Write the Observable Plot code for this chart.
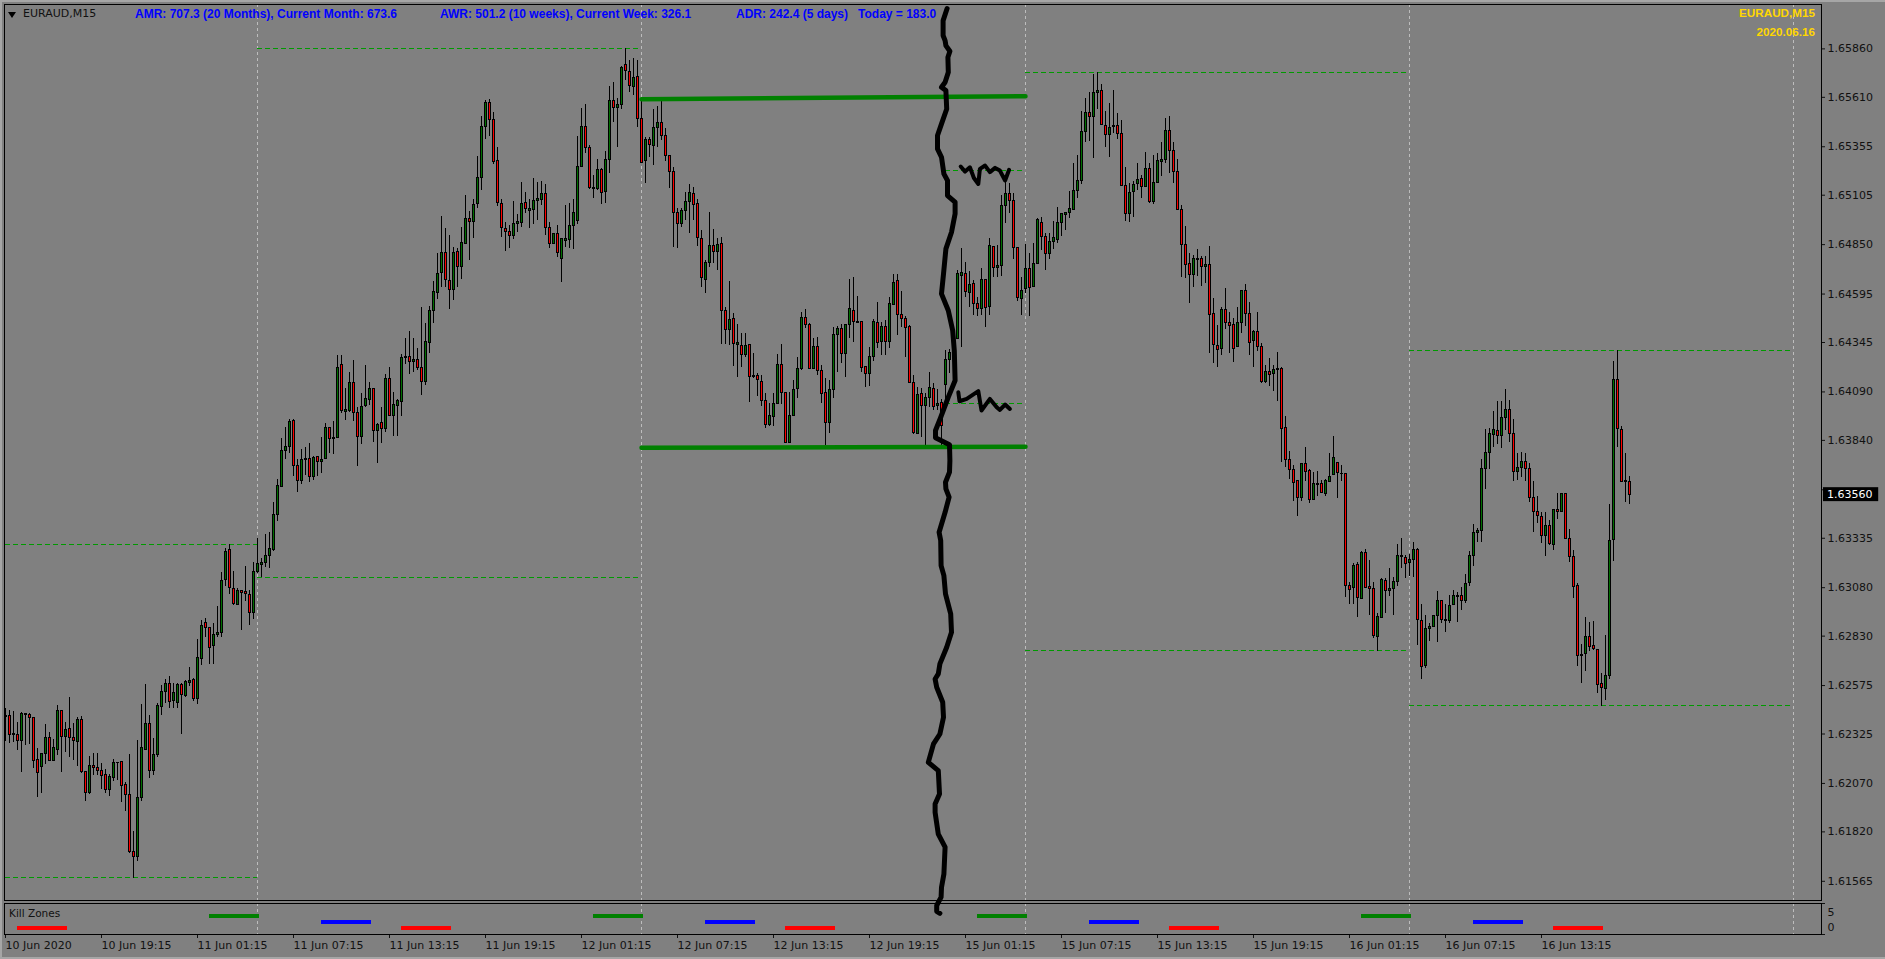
<!DOCTYPE html>
<html><head><meta charset="utf-8"><title>EURAUD,M15</title>
<script src="https://cdn.jsdelivr.net/npm/d3@7"></script>
<script src="https://cdn.jsdelivr.net/npm/@observablehq/plot@0.6"></script>
<style>
html,body{margin:0;padding:0;background:#808080;width:1885px;height:959px;overflow:hidden}
svg{position:absolute;left:0;top:0;overflow:visible}
.t{position:absolute;white-space:pre;line-height:14px}
.blue{color:#0000ff;font:bold 12px "Liberation Sans",sans-serif;top:7px}
.yellow{color:#ffd700;font:bold 11.7px "Liberation Sans",sans-serif;right:70px}
.dark{color:#111;font:11px "DejaVu Sans",sans-serif}
#chrome-top{position:absolute;left:0;top:0;width:1885px;height:2px;background:#a6a6a6}
#chrome-left{position:absolute;left:0;top:0;width:2px;height:959px;background:#a6a6a6}
#chrome-bottom{position:absolute;left:0;top:957px;width:1885px;height:2px;background:#a6a6a6}
#tri{position:absolute;left:8px;top:12px;width:0;height:0;border-left:4.5px solid transparent;border-right:4.5px solid transparent;border-top:6px solid #000}
</style></head><body>
<div id="chrome-top"></div><div id="chrome-left"></div><div id="chrome-bottom"></div>
<div id="sub"></div><div id="main"></div>
<div id="tri"></div>
<div class="t dark" style="left:23px;top:7px">EURAUD,M15</div>
<div class="t blue" style="left:135px">AMR: 707.3 (20 Months), Current Month: 673.6</div>
<div class="t blue" style="left:440px">AWR: 501.2 (10 weeks), Current Week: 326.1</div>
<div class="t blue" style="left:736px">ADR: 242.4 (5 days)   Today = 183.0</div>
<div class="t yellow" style="top:6px">EURAUD,M15</div>
<div class="t yellow" style="top:25px">2020.06.16</div>
<div class="t dark" style="left:9px;top:907px;font-size:10.5px">Kill Zones</div>
<script>
// Prices are stored as points above 1.60000 (1 point = 0.00001)
const basePrice = 1.6;
const opens = [
2412,2420,2319,2321,2288,2422,2424,2408,2192,2154,
2221,2305,2185,2242,2444,2309,2352,2305,2283,2398,
2131,2020,2161,2150,2135,2114,2035,2097,2174,2181,
2063,2011,1717,1689,1996,2243,2377,2133,2216,2463,
2541,2584,2494,2484,2580,2520,2587,2604,2506,2713,
2897,2871,2778,2835,2847,3120,3275,3074,2991,3064,
3058,3043,2948,3160,3198,3208,3243,3272,3454,3602,
3784,3807,3941,3709,3631,3738,3745,3652,3752,3728,
3743,3905,3846,3851,4230,3986,3992,4137,3982,3857,
4017,4049,4103,3888,3931,3898,4158,3965,4017,4037,
4264,4269,4245,4255,4214,4140,4341,4508,4601,4702,
4807,4663,4616,4813,4733,4854,4983,4967,5060,5194,
5456,5581,5494,5282,5060,4931,4916,4893,4955,4962,
5065,5026,5028,5074,5081,5112,4936,4852,4905,4776,
4871,4874,4945,4972,5251,5458,5349,5136,5136,5236,
5120,5287,5592,5554,5571,5777,5741,5662,5714,5497,
5280,5390,5358,5452,5478,5409,5306,5225,5014,4957,
5024,5071,5112,5060,4880,4668,4756,4843,4811,4854,
4508,4410,4467,4331,4329,4278,4333,4166,4173,4142,
4044,3918,3959,4028,4229,4085,3825,3965,4106,4209,
4472,4436,4209,4321,4197,4083,3930,4102,4383,4415,
4286,4436,4508,4453,4453,4217,4181,4269,4446,4346,
4427,4346,4539,4663,4487,4467,4427,4135,3873,4080,
4016,4059,4106,4020,4032,4126,4255,4286,4364,4690,
4699,4601,4647,4544,4517,4668,4527,4838,4728,4739,
5050,5112,5074,4833,4571,4622,4725,4631,4751,4963,
4889,4801,4865,4875,4963,5002,5013,5028,5126,5179,
5432,5530,5508,5632,5644,5463,5417,5455,5463,5422,
5154,5009,5123,5161,5190,5147,5241,5069,5167,5276,
5286,5437,5334,5226,5030,4849,4751,4694,4770,4777,
4734,4746,4493,4328,4313,4514,4447,4436,4321,4447,
4612,4493,4354,4400,4324,4140,4194,4182,4202,4209,
3905,3740,3688,3628,3542,3719,3683,3533,3612,3614,
3564,3624,3662,3724,3669,3667,3088,3079,3198,3021,
3260,3081,3074,2825,2923,3114,3062,3072,3108,3237,
3234,3206,3225,3275,2909,2677,2868,2878,2935,3012,
2914,2907,2991,3031,3038,3012,3105,3243,3363,3373,
3693,3776,3867,3889,3862,3955,3998,3874,3678,3698,
3729,3693,3544,3471,3447,3347,3399,3301,3482,3470,
3561,3332,3237,3089,2727,2737,2828,2780,2761,2584,
2556,2623,3325,4152,3896,3628,3626];
const closes = [
2418,2319,2326,2288,2426,2427,2407,2186,2123,2223,
2305,2185,2254,2444,2310,2346,2303,2288,2398,2128,
2020,2161,2149,2133,2106,2035,2102,2176,2178,2056,
2009,1715,1689,1996,2254,2377,2133,2217,2470,2544,
2584,2491,2537,2580,2525,2594,2596,2506,2718,2883,
2871,2770,2837,2847,3115,3265,3077,2995,3064,3053,
3046,2948,3162,3203,3208,3244,3280,3456,3605,3786,
3807,3937,3707,3631,3740,3745,3650,3750,3728,3740,
3905,3848,3853,4214,3992,3998,4137,3982,3857,4013,
4054,4106,3888,3920,3898,4158,3965,4023,4041,4266,
4271,4245,4255,4212,4140,4346,4510,4608,4699,4807,
4668,4616,4807,4733,4859,4983,4967,5057,5194,5458,
5583,5494,5275,5064,4936,4914,4893,4957,4967,5060,
5034,5036,5076,5083,5112,4935,4852,4905,4806,4880,
4880,4947,5014,5251,5458,5349,5141,5143,5236,5115,
5287,5592,5554,5571,5762,5745,5667,5710,5497,5270,
5390,5363,5452,5478,5409,5308,5225,5014,4957,5024,
5071,5115,5055,4885,4678,4756,4843,4811,4847,4508,
4410,4462,4338,4341,4281,4329,4166,4173,4149,4044,
3918,3965,4028,4229,4083,3825,3965,4100,4209,4472,
4436,4209,4324,4200,4080,3930,4100,4386,4415,4286,
4436,4518,4450,4448,4212,4181,4269,4453,4343,4427,
4346,4544,4653,4487,4467,4420,4135,3877,4076,4016,
4059,4111,4011,4028,3913,4255,4291,4355,4699,4704,
4604,4642,4544,4517,4668,4522,4843,4730,4739,5050,
5112,5077,4833,4575,4612,4725,4627,4751,4975,4889,
4803,4865,4885,4963,5006,5014,5032,5128,5179,5432,
5530,5508,5634,5644,5468,5417,5453,5460,5422,5152,
5009,5118,5159,5185,5147,5241,5071,5169,5283,5288,
5437,5333,5224,5030,4849,4746,4694,4777,4777,4734,
4746,4488,4333,4306,4514,4445,4431,4313,4447,4612,
4493,4344,4400,4321,4140,4194,4177,4204,4209,3900,
3740,3688,3621,3542,3719,3676,3533,3616,3617,3569,
3631,3650,3750,3671,3664,3088,3067,3193,3026,3260,
3077,3074,2830,2930,3120,3062,3074,3110,3244,3246,
3203,3224,3275,2914,2670,2868,2878,2935,3012,2914,
2907,2988,3038,3038,3012,3100,3244,3363,3373,3693,
3776,3874,3894,3863,3956,3998,3874,3678,3698,3729,
3693,3542,3470,3449,3347,3399,3304,3482,3470,3561,
3330,3237,3083,2728,2735,2828,2773,2763,2579,2561,
2625,3322,4152,3898,3624,3623,3559];
const highs = [
2455,2446,2441,2386,2434,2432,2429,2412,2248,2223,
2374,2333,2295,2472,2446,2386,2512,2377,2408,2415,
2133,2209,2223,2223,2171,2142,2114,2192,2178,2183,
2075,2219,1822,2291,2477,2580,2420,2300,2481,2575,
2604,2622,2584,2587,2587,2601,2670,2610,2811,2911,
2919,2873,2893,2983,3160,3280,3303,3163,3074,3066,
3189,3065,3212,3332,3229,3354,3366,3521,3638,3848,
3908,3946,3946,3740,3791,3802,3822,3757,3757,3853,
3925,3905,3939,4276,4276,4106,4190,4252,4011,4080,
4226,4140,4106,3929,4008,4180,4214,4085,4049,4283,
4364,4401,4364,4312,4527,4441,4530,4659,4802,4995,
4931,4897,4833,4828,4940,5103,5021,5081,5304,5511,
5593,5597,5531,5349,5081,4964,4947,5071,5005,5169,
5119,5081,5189,5169,5175,5160,4964,4905,4947,4880,
5052,5060,5083,5408,5550,5571,5359,5206,5287,5244,
5330,5666,5685,5602,5769,5860,5800,5808,5800,5593,
5401,5404,5547,5564,5593,5447,5308,5246,5034,5034,
5120,5158,5146,5081,4923,4768,5014,4926,4880,4888,
4527,4658,4493,4436,4389,4389,4334,4290,4183,4174,
4080,4028,4080,4281,4334,4087,4085,4149,4269,4501,
4513,4441,4364,4372,4226,4157,4149,4420,4427,4436,
4438,4670,4678,4582,4453,4221,4317,4462,4553,4450,
4458,4579,4696,4696,4606,4479,4432,4174,4114,4106,
4080,4188,4131,4100,4049,4303,4309,4389,4716,4828,
4759,4713,4665,4579,4725,4668,4880,4842,4845,5103,
5172,5163,5112,4837,4679,4851,4803,4854,4987,4992,
4906,4906,4970,5040,5013,5016,5124,5267,5308,5537,
5603,5637,5728,5737,5677,5537,5577,5646,5525,5491,
5247,5164,5178,5267,5209,5324,5271,5310,5319,5376,
5499,5511,5379,5288,5052,4944,4803,4794,4823,4789,
4789,4841,4571,4433,4524,4624,4502,4467,4528,4614,
4645,4552,4407,4500,4338,4226,4263,4226,4292,4214,
3963,3781,3710,3633,3719,3802,3688,3676,3679,3633,
3636,3771,3860,3728,3710,3671,3108,3203,3208,3267,
3275,3220,3105,2948,3126,3129,3181,3131,3301,3332,
3246,3251,3315,3280,2993,2936,2897,2936,3060,3014,
2991,3040,3065,3057,3083,3148,3267,3404,3384,3740,
3896,3900,3989,4041,4041,4101,4046,3946,3771,3776,
3771,3719,3628,3550,3470,3466,3427,3483,3568,3564,
3561,3378,3272,3100,2787,2924,2900,2905,2763,2635,
2833,3509,4247,4304,3912,3771,3654];
const lows = [
2286,2278,2283,2240,2126,2266,2271,2147,1997,2016,
2168,2185,2185,2214,2126,2229,2202,2188,2157,2123,
1978,2013,2111,2111,2039,2020,2002,2080,2085,1971,
1927,1710,1581,1667,1978,2240,2097,2111,2205,2420,
2484,2458,2458,2458,2322,2515,2570,2493,2477,2678,
2821,2684,2684,2825,2825,3086,3045,2988,2988,2859,
3009,2885,2917,3151,3134,3182,3179,3268,3423,3599,
3741,3771,3654,3573,3612,3659,3624,3633,3655,3667,
3740,3774,3767,3848,3980,3943,3986,3939,3707,3819,
4011,4020,3831,3722,3822,3882,3963,3860,3860,3963,
4231,4180,4192,4200,4071,4123,4286,4444,4568,4630,
4630,4517,4561,4630,4671,4850,4768,4881,5034,5129,
5394,5408,5263,5048,4888,4816,4831,4876,4912,4940,
5012,4935,4955,4974,5052,4897,4831,4850,4785,4656,
4833,4828,4825,4955,5249,5322,5136,5089,5129,5058,
5062,5218,5482,5353,5547,5697,5636,5619,5456,5270,
5167,5298,5258,5353,5387,5279,5138,4833,4831,4940,
4974,4909,4974,4842,4630,4599,4733,4752,4716,4333,
4333,4329,4223,4166,4217,4269,4033,4157,4066,4014,
3903,3911,3911,4025,4025,3822,3822,3963,4054,4200,
4415,4209,4209,4174,4028,3813,3877,4057,4188,4238,
4162,4364,4346,4445,4192,4114,4118,4248,4312,4277,
4277,4312,4536,4381,4424,4269,4131,3870,3868,3856,
3813,4011,3994,3994,3813,4028,4183,4269,4364,4317,
4579,4527,4484,4479,4484,4424,4484,4678,4678,4687,
4960,5009,4775,4558,4485,4596,4481,4627,4751,4820,
4717,4772,4825,4858,4892,4923,4987,5026,5090,5161,
5377,5384,5296,5548,5463,5353,5302,5422,5394,5150,
4970,4966,4992,5130,5087,5147,5064,5056,5164,5204,
5271,5219,5164,5030,4682,4674,4545,4631,4686,4634,
4651,4287,4235,4215,4277,4411,4287,4244,4321,4393,
4430,4277,4218,4301,4135,4135,4118,4094,4042,3728,
3702,3638,3526,3449,3526,3630,3513,3530,3552,3564,
3552,3624,3659,3542,3630,3031,2993,2993,2928,3021,
3077,2936,2819,2752,2923,2945,3034,2936,3086,3181,
3126,3138,3134,2782,2606,2665,2802,2873,2799,2897,
2850,2893,2988,2902,2962,2997,3088,3191,3313,3313,
3588,3691,3805,3817,3800,3891,3831,3628,3633,3650,
3630,3519,3366,3409,3306,3241,3298,3272,3430,3470,
3329,3212,3026,2675,2587,2649,2751,2756,2536,2469,
2498,2606,3217,3805,3624,3518,3511];

const priceTicks = [1.65860,1.65610,1.65355,1.65105,1.64850,1.64595,1.64345,1.64090,1.63840,1.63585,1.63335,1.63080,1.62830,1.62575,1.62325,1.62070,1.61820,1.61565];
const hiddenTick = 1.63585; // sits behind the current-price tag in the reference
const dayBreaks = [63,159,255,351,447];
const timeTicks = [0,24,48,72,96,120,144,168,192,216,240,264,288,312,336,360,384];
const timeLabels = ["10 Jun 2020","10 Jun 19:15","11 Jun 01:15","11 Jun 07:15","11 Jun 13:15","11 Jun 19:15","12 Jun 01:15","12 Jun 07:15","12 Jun 13:15","12 Jun 19:15","15 Jun 01:15","15 Jun 07:15","15 Jun 13:15","15 Jun 19:15","16 Jun 01:15","16 Jun 07:15","16 Jun 13:15"];
const lastPrice = 1.63560;
// Previous-day high / low levels: [first bar, last bar, points]
const dayLevels = [[0,63,3301],[0,63,1584],[63,159,5860],[63,159,3135],[235,255,5231],[235,255,4030],[255,351,5737],[255,351,2754],[351,447,4302],[351,447,2470]];
// Hand-drawn range lines: [bar, points]
const rangeTop = [[159,5600],[255,5616]];
const rangeBottom = [[159,3802],[255,3807]];
const handDivider = [[235.4,6068],[234.4,6006],[234.4,5929],[234.9,5903],[235.1,5877],[236.1,5848],[235.6,5817],[235.7,5740],[234.9,5688],[234.0,5662],[235.1,5645],[235.3,5550],[234.0,5473],[233.0,5413],[233.0,5344],[234.0,5301],[234.6,5215],[235.5,5181],[235.5,5103],[237.4,5069],[237.4,5009],[236.5,4914],[235.1,4828],[234.5,4699],[234.0,4596],[235.7,4510],[236.8,4407],[237.2,4303],[237.4,4149],[235.7,4063],[233.8,3959],[232.5,3891],[232.5,3853],[236.0,3818],[236.1,3736],[236.0,3676],[235.0,3624],[235.1,3590],[235.9,3547],[234.9,3469],[233.4,3366],[233.8,3323],[233.9,3194],[234.6,3142],[235.0,3048],[236.3,2945],[236.5,2850],[235.3,2773],[233.6,2687],[233.2,2635],[232.4,2609],[232.8,2566],[234.3,2489],[234.5,2411],[233.6,2325],[232.0,2274],[230.7,2179],[233.2,2136],[233.5,2016],[232.4,1964],[232.4,1921],[233.2,1809],[234.9,1741],[234.6,1603],[234.0,1534],[233.9,1483],[232.8,1440],[232.8,1410],[233.6,1400]];
const scribbleHigh = [[238.8,5253],[239.9,5227],[241.1,5249],[242.1,5194],[243.2,5163],[243.6,5241],[244.9,5258],[246.1,5224],[247.4,5246],[248.6,5232],[249.9,5181],[250.9,5236]];
const scribbleLow = [[238.2,4088],[238.5,4042],[240.3,4054],[243.2,4094],[244.0,3994],[246.1,4054],[247.8,4011],[248.6,3997],[249.9,4025],[251.1,4002]];
// Kill Zones indicator: first bars of each session
const zoneLength = 12.5;
const zoneGreenStarts = [51,147,243,339];
const zoneBlueStarts = [79,175,271,367];
const zoneRedStarts = [3,99,195,291,387];

const px = v => basePrice + v/1e5;
const bars = opens.map((o,i)=>({i,open:px(o),close:px(closes[i]),high:px(highs[i]),low:px(lows[i])}));
const up = bars.filter(b=>b.close>=b.open), down = bars.filter(b=>b.close<b.open);
const xDomain = [-0.25,454];
const font = {fontFamily:"DejaVu Sans",fontSize:"11px",background:"transparent",color:"#111",overflow:"visible"};
const crisp = "crispEdges";
const lineOf = (pts,opts)=>Plot.line(pts,{x:d=>d[0],y:d=>px(d[1]),strokeLinejoin:"round",strokeLinecap:"round",...opts});
const candle = (data,fill)=>Plot.rect(data,{x1:d=>d.i-0.25,x2:d=>d.i+0.25,y1:"open",y2:"close",fill,stroke:"#000",strokeWidth:1,shapeRendering:crisp,dx:0.5});

const main = Plot.plot({
  width:1885,height:959,marginTop:4,marginBottom:59,marginLeft:4,marginRight:64,style:font,
  x:{domain:xDomain,axis:null},
  y:{domain:[px(1466),px(6089)],axis:null},
  marks:[
    Plot.ruleX(dayBreaks,{stroke:"#bdbdbd",strokeDasharray:"3,3",strokeWidth:1}),
    Plot.ruleY(dayLevels,{x1:d=>d[0],x2:d=>d[1],y:d=>px(d[2]),stroke:"#009a00",strokeWidth:1,strokeDasharray:"5,3",shapeRendering:crisp}),
    Plot.ruleX(bars,{x:"i",y1:"low",y2:"high",stroke:"#000",strokeWidth:1,shapeRendering:crisp}),
    candle(up,"#006f00"),
    candle(down,"#ff0000"),
    lineOf(rangeTop,{stroke:"#008000",strokeWidth:4.5}),
    lineOf(rangeBottom,{stroke:"#008000",strokeWidth:4.5}),
    lineOf(handDivider,{stroke:"#000",strokeWidth:5}),
    lineOf(scribbleHigh,{stroke:"#000",strokeWidth:4}),
    lineOf(scribbleLow,{stroke:"#000",strokeWidth:4}),
    Plot.axisY(priceTicks,{anchor:"right",tickSize:3,tickPadding:3,tickFormat:d=>d===hiddenTick?"":d.toFixed(5),label:null,fill:"#111"}),
    Plot.rect([lastPrice],{x1:454.5,x2:468.3,y1:d=>d-0.00036,y2:d=>d+0.00036,fill:"#000"}),
    Plot.text([lastPrice],{x:455.4,y:d=>d,text:d=>d.toFixed(5),fill:"#fff",textAnchor:"start"}),
    Plot.frame({stroke:"#000"})
  ]
});
const zoneRows = (starts,level)=>starts.map(s=>({s,e:s+zoneLength,level}));
const sub = Plot.plot({
  width:1885,height:959,marginTop:903,marginBottom:25,marginLeft:4,marginRight:64,style:font,
  x:{domain:xDomain,axis:null},
  y:{domain:[-2.33,8],axis:null},
  marks:[
    Plot.ruleX(dayBreaks,{stroke:"#bdbdbd",strokeDasharray:"3,3",strokeWidth:1}),
    Plot.ruleY(zoneRows(zoneGreenStarts,4),{x1:"s",x2:"e",y:"level",stroke:"#008000",strokeWidth:4,shapeRendering:crisp}),
    Plot.ruleY(zoneRows(zoneBlueStarts,2),{x1:"s",x2:"e",y:"level",stroke:"#0000ff",strokeWidth:4,shapeRendering:crisp}),
    Plot.ruleY(zoneRows(zoneRedStarts,0),{x1:"s",x2:"e",y:"level",stroke:"#ff0000",strokeWidth:4,shapeRendering:crisp}),
    Plot.axisX(timeTicks,{anchor:"bottom",tickSize:4,tickPadding:3,textAnchor:"start",tickFormat:d=>timeLabels[timeTicks.indexOf(d)],label:null,fill:"#111"}),
    Plot.axisY([8,-2.33],{anchor:"right",tickSize:3,tickFormat:()=>"",label:null}),
    Plot.axisY([5,0],{anchor:"right",tickSize:0,tickPadding:6,label:null,fill:"#111"}),
    Plot.frame({stroke:"#000"})
  ]
});
document.getElementById("sub").append(sub);
document.getElementById("main").append(main);
</script>
</body></html>
